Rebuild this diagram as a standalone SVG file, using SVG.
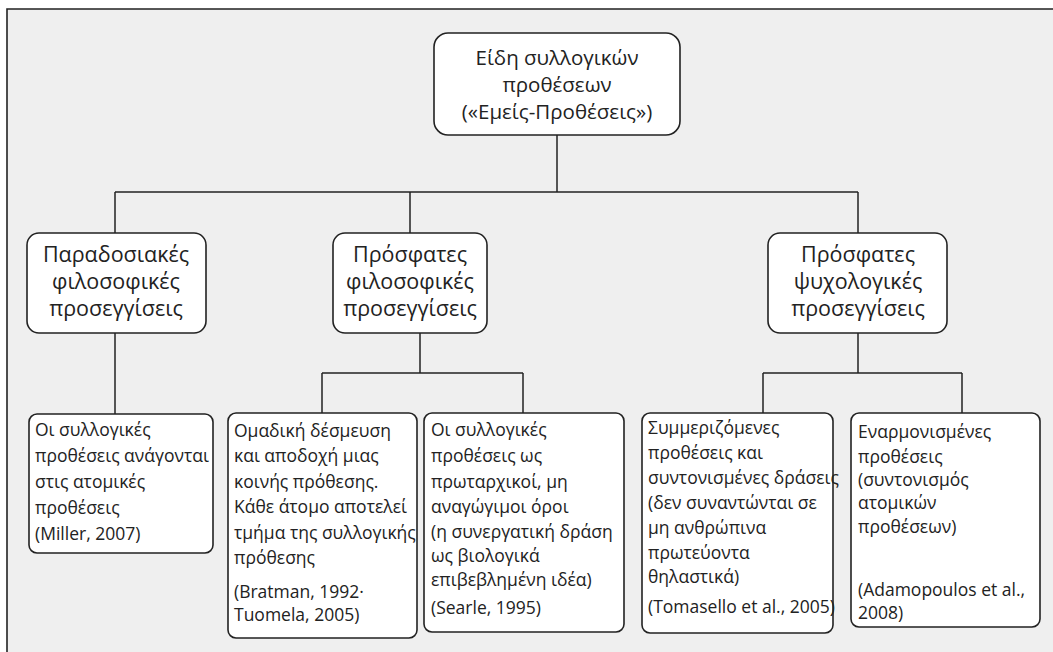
<svg xmlns="http://www.w3.org/2000/svg" width="1053" height="652" viewBox="0 0 1053 652">
<style>
  .bg{fill:#efefef}
  .frame{fill:none;stroke:#222;stroke-width:1.6}
  .node rect{fill:#ffffff;stroke:#222;stroke-width:1.6}
  .conn line{stroke:#222;stroke-width:1.5}
  text{font-family:"Open Sans","Noto Sans","DejaVu Sans",sans-serif;fill:#222}
  .t1{font-size:20.5px;text-anchor:middle}
  .t2{font-size:21.5px;text-anchor:middle}
  .t3{font-size:17.5px}
</style>
<rect x="0" y="0" width="1053" height="652" fill="#ffffff"/>
<rect class="bg" x="7" y="9" width="1046" height="643"/>
<path class="frame" d="M7,652 V9 H1053"/>
<g class="conn">
  <line x1="557" y1="135" x2="557" y2="192"/>
  <line x1="115" y1="192" x2="858" y2="192"/>
  <line x1="115" y1="192" x2="115" y2="233"/>
  <line x1="410" y1="192" x2="410" y2="233"/>
  <line x1="858" y1="192" x2="858" y2="233"/>
  <line x1="115" y1="333" x2="115" y2="414"/>
  <line x1="420" y1="333" x2="420" y2="373"/>
  <line x1="322" y1="373" x2="523" y2="373"/>
  <line x1="322" y1="373" x2="322" y2="413"/>
  <line x1="523" y1="373" x2="523" y2="413"/>
  <line x1="858" y1="333" x2="858" y2="373"/>
  <line x1="763" y1="373" x2="962" y2="373"/>
  <line x1="763" y1="373" x2="763" y2="413"/>
  <line x1="962" y1="373" x2="962" y2="413"/>
</g>
<g id="root" class="node">
  <rect x="434" y="33" width="246" height="102" rx="14"/>
  <text class="t1" x="557" y="65">Είδη συλλογικών</text>
  <text class="t1" x="557" y="92">προθέσεων</text>
  <text class="t1" x="557" y="119">(«Εμείς-Προθέσεις»)</text>
</g>
<g id="traditional" class="node">
  <rect x="27" y="233" width="179" height="100" rx="12"/>
  <text class="t2" x="116" y="262">Παραδοσιακές</text>
  <text class="t2" x="116" y="289">φιλοσοφικές</text>
  <text class="t2" x="116" y="316">προσεγγίσεις</text>
</g>
<g id="recent-phil" class="node">
  <rect x="333" y="233" width="154" height="100" rx="12"/>
  <text class="t2" x="410" y="262">Πρόσφατες</text>
  <text class="t2" x="410" y="289">φιλοσοφικές</text>
  <text class="t2" x="410" y="316">προσεγγίσεις</text>
</g>
<g id="recent-psych" class="node">
  <rect x="768" y="233" width="179" height="100" rx="12"/>
  <text class="t2" x="858" y="262">Πρόσφατες</text>
  <text class="t2" x="858" y="289">ψυχολογικές</text>
  <text class="t2" x="858" y="316">προσεγγίσεις</text>
</g>
<g id="miller" class="node">
  <rect x="29" y="414" width="184" height="139" rx="8"/>
  <text class="t3" x="35" y="436">Οι συλλογικές</text>
  <text class="t3" x="35" y="462">προθέσεις ανάγονται</text>
  <text class="t3" x="35" y="488">στις ατομικές</text>
  <text class="t3" x="35" y="514">προθέσεις</text>
  <text class="t3" x="35" y="540">(Miller, 2007)</text>
</g>
<g id="bratman" class="node">
  <rect x="228" y="413" width="189" height="225" rx="8"/>
  <text class="t3" x="234" y="437">Ομαδική δέσμευση</text>
  <text class="t3" x="234" y="462">και αποδοχή μιας</text>
  <text class="t3" x="234" y="488">κοινής πρόθεσης.</text>
  <text class="t3" x="234" y="513">Κάθε άτομο αποτελεί</text>
  <text class="t3" x="234" y="539">τμήμα της συλλογικής</text>
  <text class="t3" x="234" y="564">πρόθεσης</text>
  <text class="t3" x="234" y="598">(Bratman, 1992·</text>
  <text class="t3" x="234" y="621">Tuomela, 2005)</text>
</g>
<g id="searle" class="node">
  <rect x="424" y="413" width="200" height="219" rx="8"/>
  <text class="t3" x="431" y="436">Οι συλλογικές</text>
  <text class="t3" x="431" y="462">προθέσεις ως</text>
  <text class="t3" x="431" y="488">πρωταρχικοί, μη</text>
  <text class="t3" x="431" y="513">αναγώγιμοι όροι</text>
  <text class="t3" x="431" y="538">(η συνεργατική δράση</text>
  <text class="t3" x="431" y="562">ως βιολογικά</text>
  <text class="t3" x="431" y="586">επιβεβλημένη ιδέα)</text>
  <text class="t3" x="431" y="614">(Searle, 1995)</text>
</g>
<g id="tomasello" class="node">
  <rect x="642" y="413" width="191" height="220" rx="8"/>
  <text class="t3" x="648" y="434">Συμμεριζόμενες</text>
  <text class="t3" x="648" y="459">προθέσεις και</text>
  <text class="t3" x="648" y="484">συντονισμένες δράσεις</text>
  <text class="t3" x="648" y="509">(δεν συναντώνται σε</text>
  <text class="t3" x="648" y="534">μη ανθρώπινα</text>
  <text class="t3" x="648" y="559">πρωτεύοντα</text>
  <text class="t3" x="648" y="583">θηλαστικά)</text>
  <text class="t3" x="648" y="613">(Tomasello et al., 2005)</text>
</g>
<g id="adamopoulos" class="node">
  <rect x="851" y="413" width="189" height="214" rx="8"/>
  <text class="t3" x="858" y="438">Εναρμονισμένες</text>
  <text class="t3" x="858" y="463">προθέσεις</text>
  <text class="t3" x="858" y="486">(συντονισμός</text>
  <text class="t3" x="858" y="509">ατομικών</text>
  <text class="t3" x="858" y="533">προθέσεων)</text>
  <text class="t3" x="858" y="596">(Adamopoulos et al.,</text>
  <text class="t3" x="858" y="619">2008)</text>
</g>
</svg>
